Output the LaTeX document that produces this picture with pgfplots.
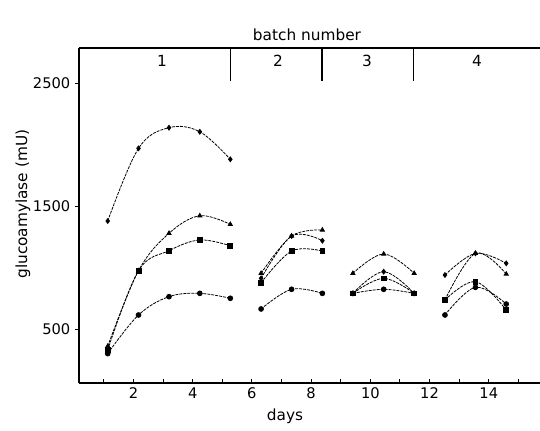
\documentclass[border=0pt]{standalone}
\usepackage{fontspec}
\setmainfont{DejaVu Sans}
\usepackage{pgfplots}
\pgfplotsset{compat=1.18}
\begin{document}
\begin{tikzpicture}
\path[use as bounding box] (-59.25pt,-35.25pt) rectangle (345.75pt,287.25pt);
\begin{axis}[
  at={(0pt,0pt)}, anchor=south west,
  scale only axis, width=345.75pt, height=251.25pt,
  xmin=0.16, xmax=15.73, ymin=61, ymax=2785,
  axis x line=bottom, axis y line=left,
  x axis line style={-, line width=0.9pt},
  y axis line style={-, line width=0.9pt},
  xtick={2,4,...,14}, minor xtick={1,3,...,15},
  ytick={500,1500,2500},
  xtick align=inside, ytick align=outside,
  major tick length=3pt, minor tick length=3pt,
  every tick/.style={black, line width=0.7pt},
  tick label style={font=\fontsize{11}{13}\selectfont},
  /pgf/number format/assume math mode=true,
  /pgf/number format/1000 sep={},
  xlabel={days}, ylabel={glucoamylase (mU)},
  label style={font=\fontsize{11.5}{13}\selectfont},
  x label style={at={(axis description cs:0.447,-0.1)}, anchor=center},
  y label style={at={(axis description cs:-0.1215,0.534)}, anchor=center},
  clip=false,
  every axis plot/.append style={black, line width=0.6pt, dash pattern=on 2.2pt off 0.8pt, smooth, tension=0.6, mark options={solid, fill=black}, mark size=1.8pt},
]
% batch 1
\addplot[mark=diamond*] coordinates {(1.13,1378) (2.17,1969) (3.20,2137) (4.24,2104) (5.27,1880)};
\addplot[mark=triangle*] coordinates {(1.13,360) (2.17,974) (3.20,1278) (4.24,1421) (5.27,1351)};
\addplot[mark=square*] coordinates {(1.13,330) (2.17,974) (3.20,1137) (4.24,1224) (5.27,1177)};
\addplot[mark=*] coordinates {(1.13,300) (2.17,614) (3.20,763) (4.24,790) (5.27,750)};
% batch 2
\addplot[mark=triangle*] coordinates {(6.31,953) (7.34,1256) (8.38,1305)};
\addplot[mark=diamond*] coordinates {(6.31,912) (7.34,1256) (8.38,1218)};
\addplot[mark=square*] coordinates {(6.31,876) (7.34,1134) (8.38,1134)};
\addplot[mark=*] coordinates {(6.31,663) (7.34,823) (8.38,790)};
% batch 3
\addplot[mark=triangle*] coordinates {(9.41,953) (10.45,1110) (11.48,953)};
\addplot[mark=diamond*] coordinates {(9.41,790) (10.45,966) (11.48,790)};
\addplot[mark=square*] coordinates {(9.41,790) (10.45,912) (11.48,790)};
\addplot[mark=*] coordinates {(9.41,790) (10.45,823) (11.48,790)};
% batch 4
\addplot[mark=diamond*] coordinates {(12.52,939) (13.55,1115) (14.59,1034)};
\addplot[mark=triangle*] coordinates {(12.52,736) (13.55,1115) (14.59,947)};
\addplot[mark=square*] coordinates {(12.52,736) (13.55,885) (14.59,654)};
\addplot[mark=*] coordinates {(12.52,614) (13.55,839) (14.59,703)};
% batch box
\draw[line width=0.9pt] (rel axis cs:0,1) -- (rel axis cs:1,1);
\draw[line width=0.9pt] (axis cs:5.27,2785) -- (axis cs:5.27,2515);
\draw[line width=0.9pt] (axis cs:8.37,2785) -- (axis cs:8.37,2515);
\draw[line width=0.9pt] (axis cs:11.45,2785) -- (axis cs:11.45,2515);
\node[font=\fontsize{11.5}{13}\selectfont] at (axis cs:2.96,2680) {1};
\node[font=\fontsize{11.5}{13}\selectfont] at (axis cs:6.88,2680) {2};
\node[font=\fontsize{11.5}{13}\selectfont] at (axis cs:9.89,2680) {3};
\node[font=\fontsize{11.5}{13}\selectfont] at (axis cs:13.6,2680) {4};
\node[font=\fontsize{11.5}{13}\selectfont] at (axis cs:7.86,2895) {batch number};
\end{axis}
\end{tikzpicture}
\end{document}
